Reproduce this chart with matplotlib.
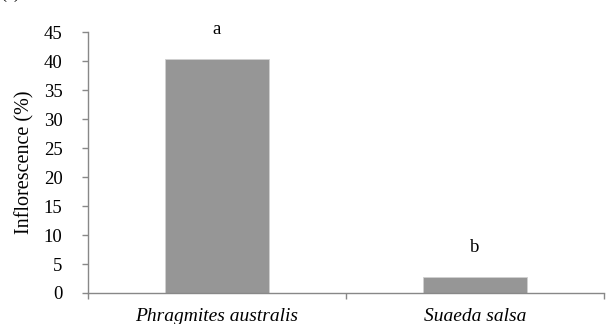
import matplotlib.pyplot as plt
from matplotlib.ticker import FixedLocator

species = ["Phragmites australis", "Suaeda salsa"]
inflorescence = [40.4, 2.8]
letters = ["a", "b"]
y_ticks = [0, 5, 10, 15, 20, 25, 30, 35, 40, 45]

plt.rcParams['font.family'] = ['Liberation Serif', 'DejaVu Serif']

fig = plt.figure(figsize=(6.1, 3.24), dpi=100)
ax = fig.add_axes([0.1443, 0.0957, 0.8457, 0.8053])

x = range(len(species))
ax.bar(x, inflorescence, width=0.4, color="#969696", edgecolor="#d0d0d0", linewidth=0.6)

for xi, v, lab in zip(x, inflorescence, letters):
    ax.annotate(lab, (xi, v), xytext=(0, 15), textcoords="offset points",
                ha="center", va="bottom", fontsize=13.5)

ax.set_xlim(-0.5, 1.5)
ax.set_ylim(0, 45)
ax.set_yticks(y_ticks)
ax.set_xticks(list(x))
ax.set_xticklabels(species, fontstyle="italic", fontsize=14)
ax.xaxis.set_minor_locator(FixedLocator([-0.5, 0.5, 1.5]))
ax.tick_params(axis="x", which="major", length=0, pad=10.5)
ax.tick_params(axis="x", which="minor", length=4.3, color="#888888", width=1)
ax.tick_params(axis="y", length=4.3, color="#888888", width=1, labelsize=13.5, pad=14)
ax.set_ylabel("Inflorescence (%)", fontsize=14.5, labelpad=7)

for s in ["top", "right"]:
    ax.spines[s].set_visible(False)
for s in ["left", "bottom"]:
    ax.spines[s].set_color("#888888")
    ax.spines[s].set_linewidth(1)

fig.text(0.0, 1.022, "(a)", fontsize=13, va="center", ha="left")

fig.savefig("out.png", dpi=100)
